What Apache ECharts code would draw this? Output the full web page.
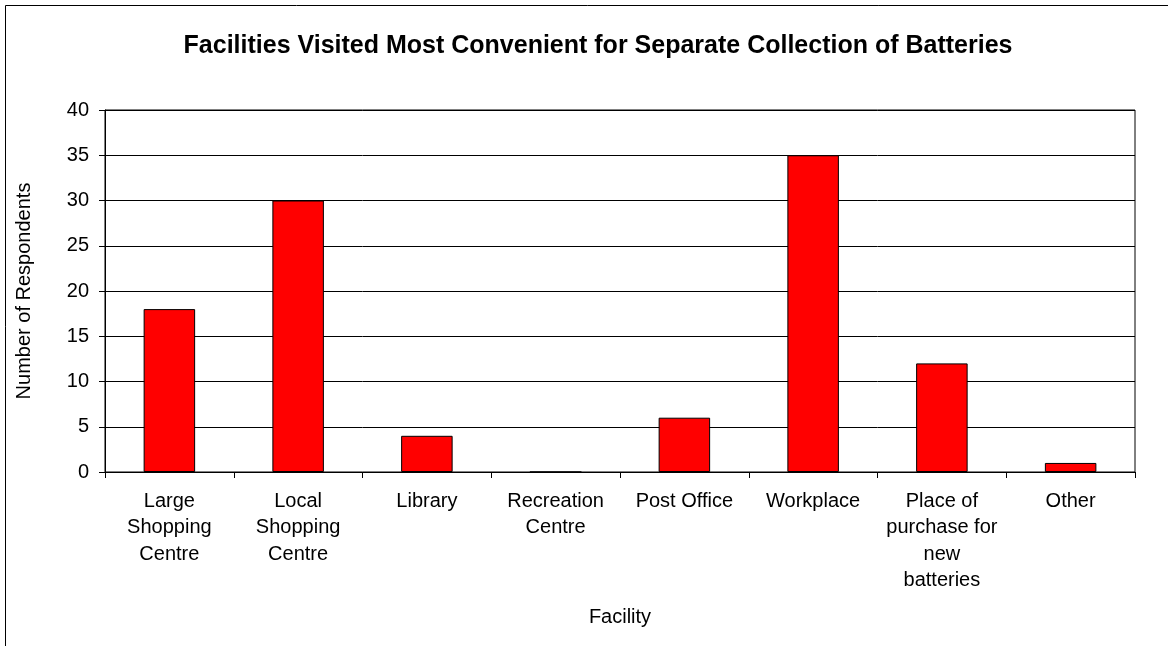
<!DOCTYPE html>
<html>
<head>
<meta charset="utf-8">
<style>
  html, body { margin: 0; padding: 0; background: #fff; }
  #chart { width: 1168px; height: 646px; }
</style>
<script src="https://cdn.jsdelivr.net/npm/echarts@6/dist/echarts.min.js"></script>
</head>
<body>
<div id="chart"></div>
<script>
// Survey results: facilities respondents found most convenient for battery drop-off
const categories = [
  'Large\nShopping\nCentre',
  'Local\nShopping\nCentre',
  'Library',
  'Recreation\nCentre',
  'Post Office',
  'Workplace',
  'Place of\npurchase for\nnew\nbatteries',
  'Other'
];
const respondents = [18, 30, 4, 0, 6, 35, 12, 1];
const yTicks = { min: 0, max: 40, interval: 5 };

const FONT = '"Liberation Sans", Arial, sans-serif';

const chart = echarts.init(document.getElementById('chart'), null, { renderer: 'canvas' });
chart.setOption({
  animation: false,
  backgroundColor: '#ffffff',
  title: {
    text: 'Facilities Visited Most Convenient for Separate Collection of Batteries',
    left: 593,
    top: 29,
    textAlign: 'center',
    textStyle: { fontFamily: FONT, fontSize: 25, fontWeight: 'bold', color: '#000' }
  },
  graphic: [{
    type: 'rect',
    shape: { x: 5.5, y: 5.5, width: 1200, height: 700 },
    style: { fill: 'none', stroke: '#000', lineWidth: 1 },
    silent: true
  }],
  grid: { left: 105, right: 33, top: 110, bottom: 174, show: true, borderColor: '#000', borderWidth: 1 },
  xAxis: {
    type: 'category',
    data: categories,
    name: 'Facility',
    nameLocation: 'middle',
    nameGap: 135,
    nameTextStyle: { fontFamily: FONT, fontSize: 20, color: '#000' },
    axisLine: { lineStyle: { color: '#000', width: 1 } },
    axisTick: { show: true, length: 6, lineStyle: { color: '#000' }, alignWithLabel: false },
    axisLabel: { fontFamily: FONT, fontSize: 20, color: '#000', lineHeight: 26.5, margin: 16, interval: 0 }
  },
  yAxis: {
    type: 'value',
    min: yTicks.min,
    max: yTicks.max,
    interval: yTicks.interval,
    name: 'Number of Respondents',
    nameLocation: 'middle',
    nameGap: 71,
    nameTextStyle: { fontFamily: FONT, fontSize: 20, color: '#000' },
    axisLine: { show: true, lineStyle: { color: '#000', width: 1 } },
    axisTick: { show: true, length: 6, lineStyle: { color: '#000' } },
    axisLabel: { fontFamily: FONT, fontSize: 20, color: '#000', margin: 16 },
    splitLine: { show: true, lineStyle: { color: '#000', width: 1 } }
  },
  series: [{
    type: 'bar',
    data: respondents,
    barWidth: '40%',
    itemStyle: { color: '#ff0000', borderColor: '#000', borderWidth: 1 }
  }]
});
</script>
</body>
</html>
